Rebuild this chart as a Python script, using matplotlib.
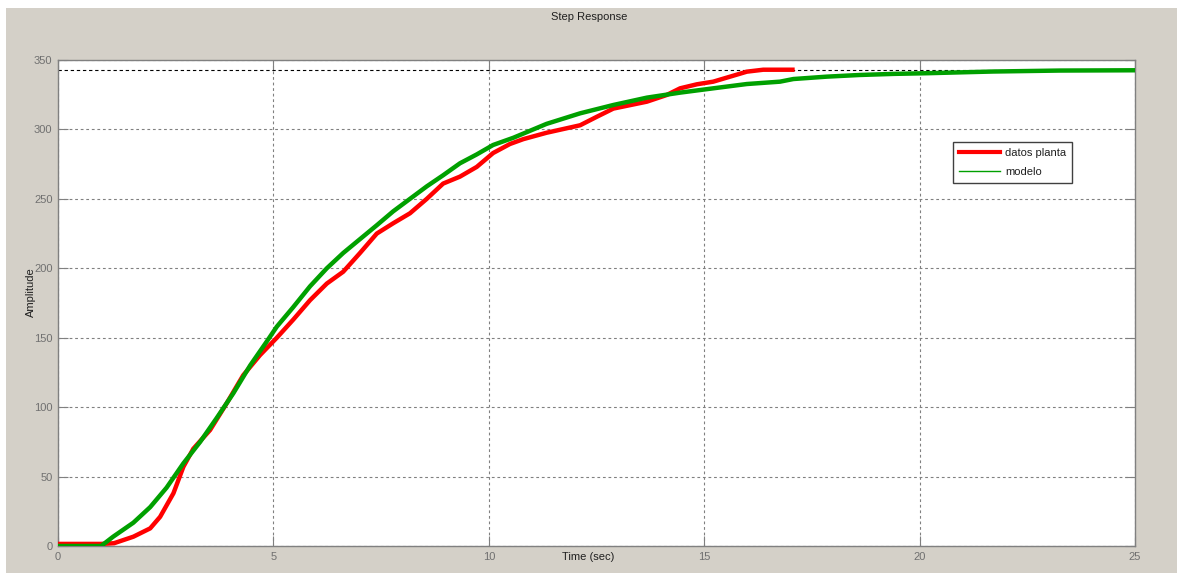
import matplotlib
matplotlib.use("Agg")
import matplotlib.pyplot as plt
from matplotlib.lines import Line2D
from matplotlib.patches import Rectangle

# ---- data ----
t_planta = [0, 1.0, 1.3, 1.75, 2.14, 2.37, 2.68, 2.91, 3.14, 3.53, 3.92, 4.30,
            4.69, 5.08, 5.46, 5.85, 6.24, 6.62, 7.01, 7.40, 7.78, 8.17, 8.56,
            8.94, 9.33, 9.72, 10.1, 10.49, 10.8, 11.34, 12.12, 12.5, 12.89,
            13.67, 14.13, 14.44, 14.83, 15.21, 15.6, 15.99, 16.37, 16.76, 17.1]
y_planta = [1.5, 1.5, 2.0, 6.7, 12.7, 21, 38, 57, 70, 83.5, 103, 123,
            137.5, 150, 163, 177, 189, 197.5, 211, 225, 232.4, 239.6, 250,
            261, 266, 273, 283, 289.5, 293, 297.6, 303, 309, 315,
            320, 324.8, 329.6, 332.5, 334.4, 338, 341.6, 343, 343, 343]

t_modelo = [0, 1.0, 1.28, 1.75, 2.14, 2.52, 2.91, 3.30, 3.68, 4.07, 4.46, 4.84,
            5.08, 5.46, 5.85, 6.24, 6.62, 7.01, 7.40, 7.78, 8.17, 8.56, 8.94,
            9.33, 9.72, 10.1, 10.57, 11.34, 12.12, 12.89, 13.67, 14.44, 15.21,
            15.99, 16.76, 17.07, 17.84, 18.6, 19.4, 20.2, 20.94, 21.7, 23.26, 25]
y_modelo = [0, 0, 6.7, 16.8, 28, 42, 59.5, 75, 92, 110, 130, 147,
            158, 172, 187, 200, 211, 221, 231, 241, 250, 259, 267,
            275.6, 282, 288.8, 294, 304, 311.6, 317.6, 322.9, 326.5, 329.6,
            332.7, 334.4, 336.3, 338, 339.2, 340, 340.5, 341.1, 341.7, 342.4, 342.6]

steady_state = 342.8
x_ticks = [0, 5, 10, 15, 20, 25]
y_ticks = [0, 50, 100, 150, 200, 250, 300, 350]
labels = ["datos planta", "modelo"]

# ---- figure ----
W, H = 1177, 573
fig = plt.figure(figsize=(W / 100, H / 100), dpi=100, facecolor="white")
plt.rcParams['font.family'] = ['Liberation Sans', 'DejaVu Sans']
bg = "#d4d0c8"
fig.patches.append(Rectangle((6 / W, 0), 1 - 6 / W, 1 - 8 / H, transform=fig.transFigure,
                             facecolor=bg, edgecolor="none", zorder=-10))

ax = fig.add_axes([58 / W, (H - 546) / H, 1077 / W, 486 / H])
ax.set_zorder(5)
ax.set_facecolor("white")

ax.plot(t_planta, y_planta, color="#ff0000", lw=3.2, solid_capstyle="butt",
        solid_joinstyle="round", zorder=3)
ax.plot(t_modelo, y_modelo, color="#00a000", lw=3.2, solid_capstyle="butt",
        solid_joinstyle="round", zorder=4)
ax.axhline(steady_state, color="black", lw=0.8, ls=(0, (3, 2.5)), zorder=2)

ax.set_xlim(0, 25)
ax.set_ylim(0, 350)
ax.set_xticks(x_ticks)
ax.set_yticks(y_ticks)
ax.grid(True, color="#808080", lw=0.8, ls=(0, (2.5, 2.5)))
for s in ax.spines.values():
    s.set_color("#808080")
    s.set_linewidth(1.0)
ax.tick_params(direction="in", length=7, width=0.8, color="#808080",
               labelcolor="#707070", labelsize=8, top=True, right=True, pad=4)

fig.text(589 / W, 1 - 17 / H, "Step Response", ha="center", va="center",
         fontsize=8, color="#202020")
fig.text(588.5 / W, 1 - 557 / H, "Time (sec)", ha="center", va="center",
         fontsize=8, color="#202020")
fig.text(31 / W, 1 - 292 / H, "Amplitude", ha="center", va="center",
         rotation=90, fontsize=8, color="#202020")

handles = [Line2D([], [], color="#ff0000", lw=3.0),
           Line2D([], [], color="#00a000", lw=1.0)]
leg = ax.legend(handles, labels, loc="upper left", bbox_to_anchor=(0.831, 0.831),
                borderaxespad=0, fontsize=8, frameon=True, fancybox=False,
                handlelength=3.7, handletextpad=0.45, borderpad=0.55,
                labelspacing=0.75, framealpha=1)
leg.get_frame().set_edgecolor("#404040")
leg.get_frame().set_linewidth(1.0)
for txt in leg.get_texts():
    txt.set_color("#202020")

fig.savefig("out.png", dpi=100, facecolor="white")
